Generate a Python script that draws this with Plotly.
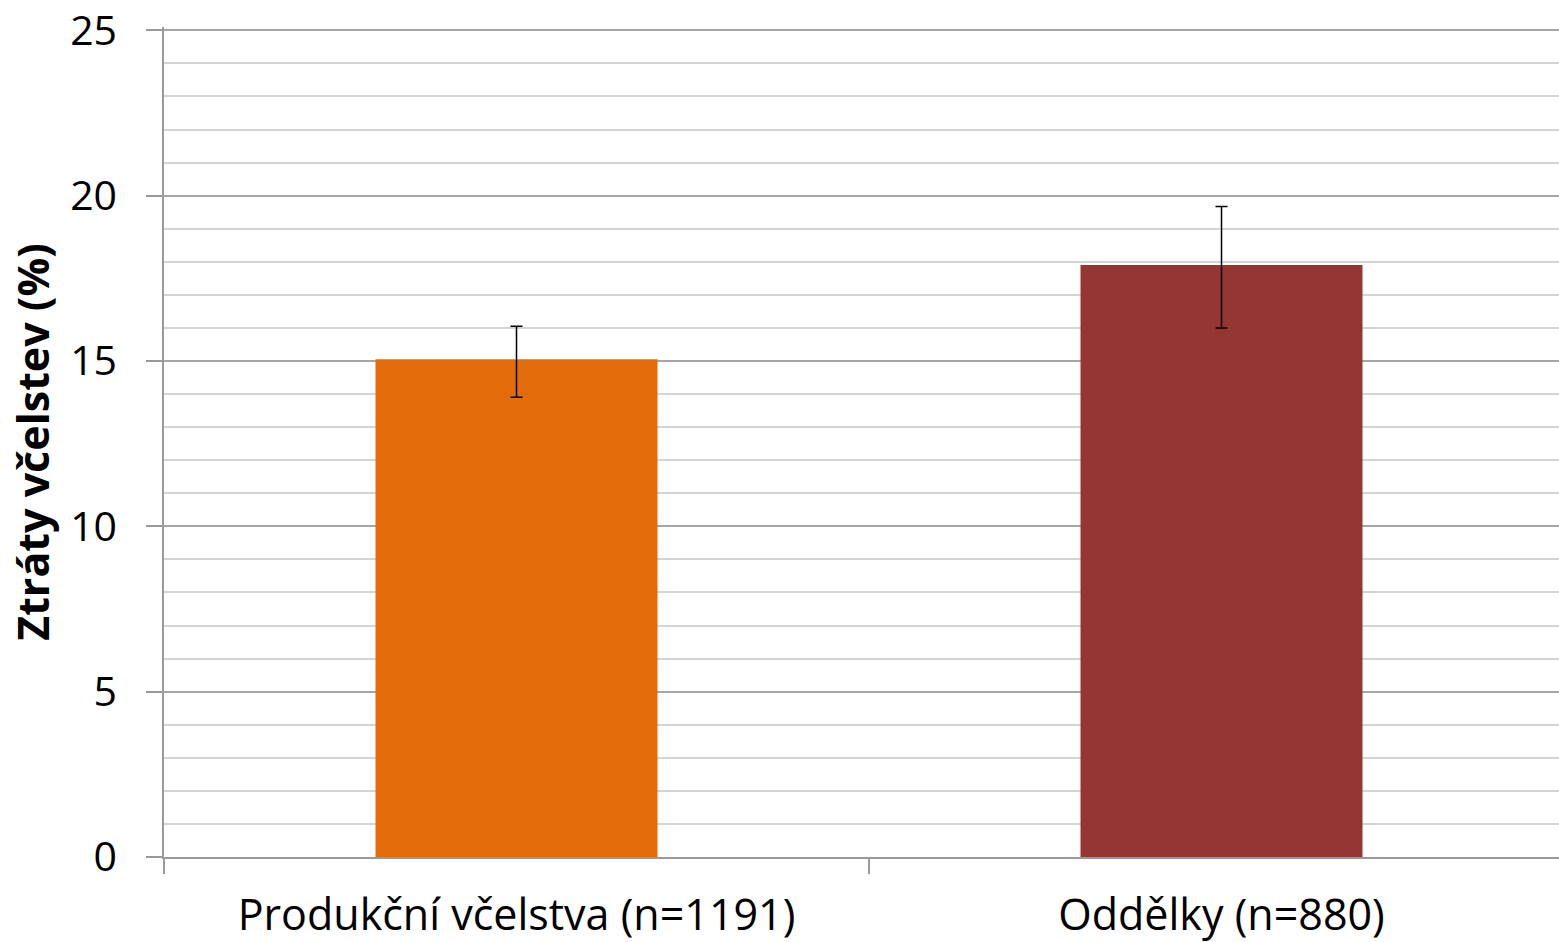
import plotly.graph_objects as go

categories = ["Produkční včelstva (n=1191)", "Oddělky (n=880)"]
values = [15.05, 17.9]
err_plus = [1.0, 1.77]
err_minus = [1.15, 1.9]
colors = ["#E36C0A", "#943634"]
y_title = "Ztráty včelstev (%)"

fig = go.Figure()
fig.add_trace(go.Bar(
    x=categories, y=values, width=0.40,
    marker=dict(color=colors, line=dict(width=0)),
    error_y=dict(type="data", symmetric=False, array=err_plus, arrayminus=err_minus,
                 color="black", thickness=1.5, width=6),
))

font_family = "Open Sans, Noto Sans, sans-serif"
fig.update_layout(
    width=1559, height=942,
    margin=dict(l=164, r=0, t=27, b=85),
    plot_bgcolor="white", paper_bgcolor="white",
    showlegend=False,
    font=dict(family=font_family, color="black"),
    xaxis=dict(
        type="category", categoryorder="array", categoryarray=categories,
        range=[-0.5, 1.4787], automargin=False,
        tickson="boundaries", ticks="outside", ticklen=15, tickcolor="#9a9a9a", tickwidth=1.5,
        showgrid=False, showline=True, linecolor="#9a9a9a", linewidth=1.5,
        tickfont=dict(size=43, family=font_family), zeroline=False,
        ticklabelstandoff=20,
    ),
    yaxis=dict(
        range=[0, 25.1], dtick=5, tick0=0, automargin=False,
        ticks="outside", ticklen=16, tickcolor="#9a9a9a", tickwidth=1.5,
        showline=True, linecolor="#9a9a9a", linewidth=1.5,
        showgrid=True, gridcolor="#a6a6a6", gridwidth=1.5,
        minor=dict(dtick=1, showgrid=True, gridcolor="#d4d4d4", gridwidth=1.5),
        zeroline=False,
        tickfont=dict(size=41, family=font_family),
        ticklabelstandoff=21, ticklabeloverflow="allow",
        title=dict(text="<b>" + y_title + "</b>", font=dict(size=43, family=font_family), standoff=7),
    ),
)
fig.write_html("out.html", config={"displayModeBar": False},
               post_script="document.body.style.margin='0';")
